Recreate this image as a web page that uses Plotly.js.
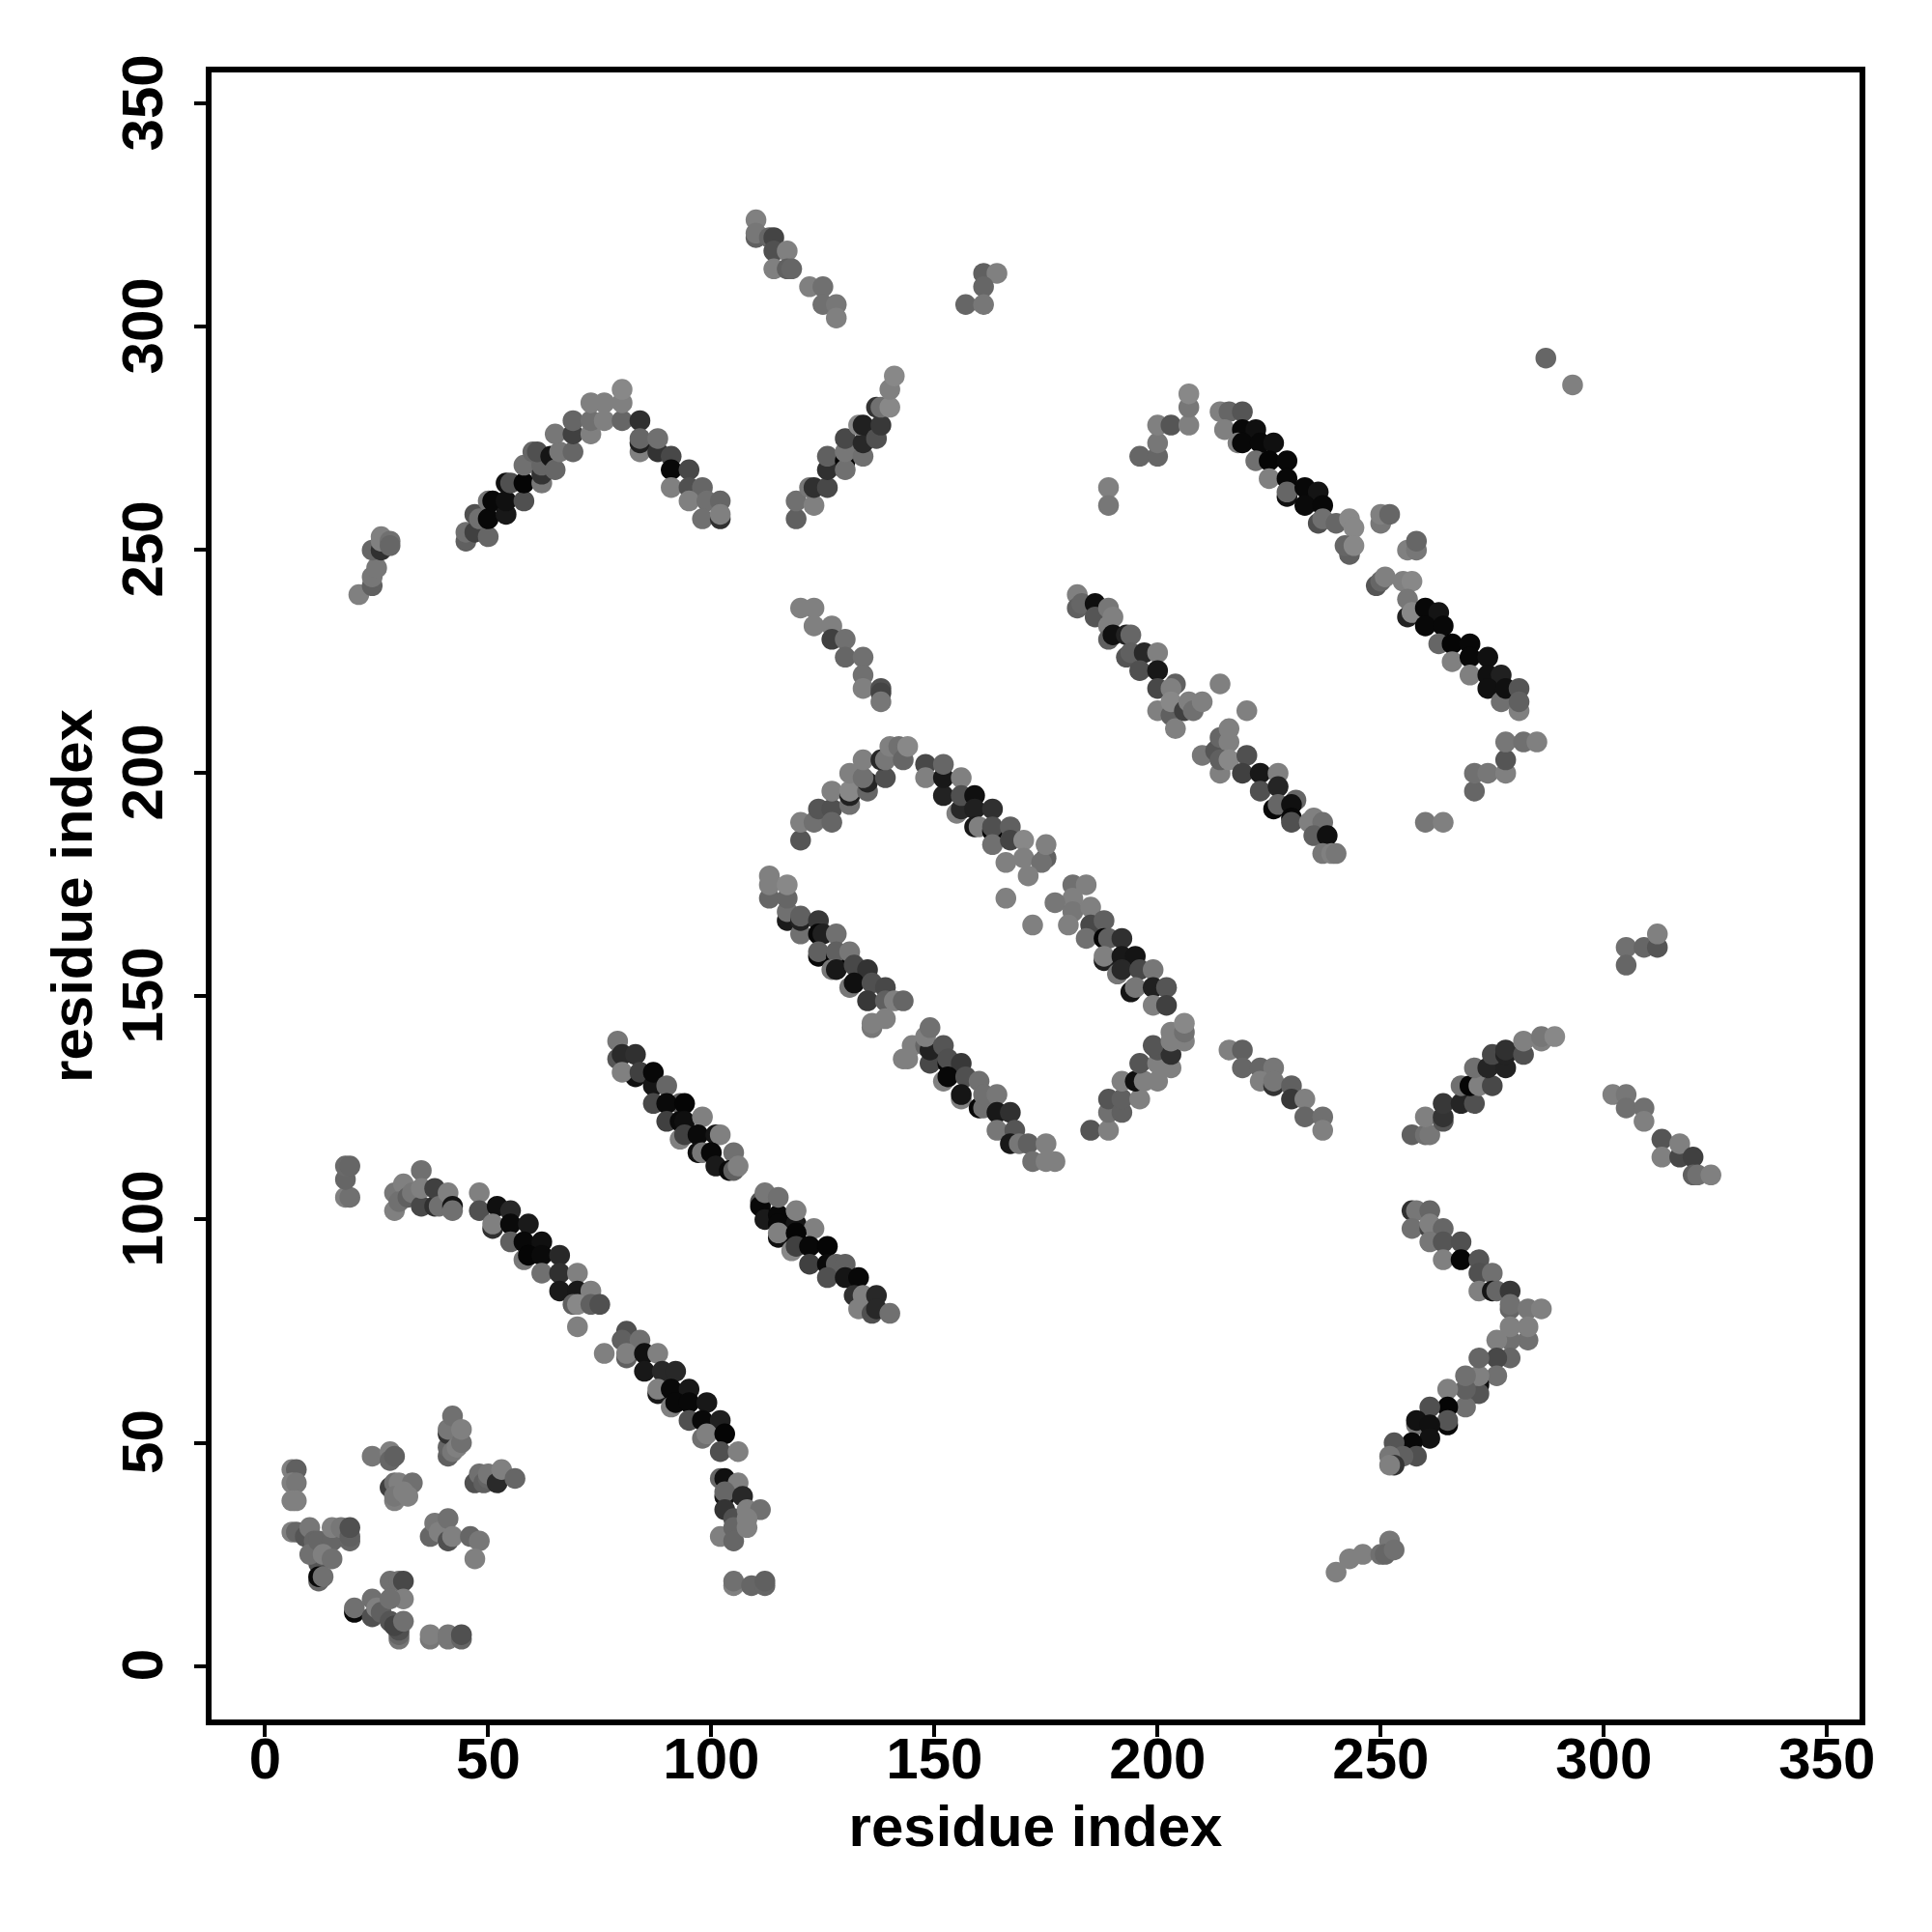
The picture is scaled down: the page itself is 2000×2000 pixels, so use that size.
<!DOCTYPE html>
<html>
<head>
<meta charset="utf-8">
<script src="https://cdn.plot.ly/plotly-3.0.1.min.js"></script>
<style>html,body{margin:0;padding:0;background:#fff}</style>
</head>
<body>
<div id="chart" style="width:2000px;height:2000px"></div>
<script>
// Each point: [residue i, residue j, grey level 0-255]
const helixA=[[79,140,0x77],[79,136,0x55],[80,137,0x2a],[83,137,0x30],[83,132,0x10],[80,133,0x80],[84,133,0x40],[87,130,0x15],[87,133,0x08],[90,130,0x66],[87,126,0x48],[93,126,0x66],[90,126,0x0a],[94,126,0x05],[90,122,0x40],[93,122,0x0a],[94,122,0x0f],[98,123,0x80],[93,118,0x80],[94,119,0x40],[97,119,0x0a],[101,119,0x15],[102,119,0x80],[97,115,0x10],[98,115,0x77],[100,115,0x08],[105,115,0x70],[101,112,0x1a],[104,111,0x0a],[105,111,0x60],[106,112,0x80]];
const helixB=[[111,104,0x55],[111,103,0x08],[112,106,0x77],[112,100,0x1a],[115,101,0x08],[115,105,0x70],[115,99,0x08],[119,99,0x15],[119,102,0x80],[115,96,0x10],[115,97,0x80],[123,98,0x80],[119,97,0x05],[118,93,0x88],[119,94,0x40],[122,94,0x08],[126,94,0x05],[122,90,0x40],[126,90,0x0a],[128,90,0x60],[130,90,0x60],[126,87,0x50],[130,87,0x15],[133,87,0x08],[132,83,0x30],[134,83,0x80],[137,83,0x28],[133,80,0x80],[136,79,0x50],[137,80,0x28],[140,79,0x70]];
const arcUpper=[[18,105,0x80],[19,105,0x70],[18,109,0x66],[18,112,0x6a],[19,112,0x66],[35,111,0x70],[29,102,0x80],[29,106,0x77],[31,108,0x80],[30,104,0x70],[32,105,0x60],[33,106,0x77],[35,103,0x48],[35,107,0x80],[38,103,0x30],[38,107,0x40],[39,103,0x70],[41,106,0x80],[42,103,0x15],[42,102,0x70],[48,106,0x80],[48,102,0x50],[52,103,0x10],[55,102,0x28],[51,98,0x30],[51,99,0x80],[55,99,0x0a],[59,99,0x1a],[55,95,0x60],[58,95,0x08],[62,95,0x10],[58,91,0x77],[59,92,0x05],[62,92,0x0a],[66,92,0x28],[62,88,0x70],[66,88,0x30],[70,88,0x80],[66,84,0x1a],[70,84,0x18],[73,84,0x80],[69,81,0x60],[70,81,0x88],[73,81,0x60],[75,81,0x50],[70,76,0x80]];
const arcLower=[[81,75,0x50],[80,73,0x60],[84,73,0x70],[76,70,0x80],[81,69,0x60],[81,70,0x80],[85,70,0x10],[88,70,0x80],[85,66,0x18],[89,66,0x28],[92,66,0x28],[88,61,0x18],[88,62,0x80],[91,62,0x08],[95,62,0x18],[91,58,0x80],[92,59,0x08],[95,59,0x08],[99,59,0x18],[95,55,0x50],[98,55,0x08],[102,55,0x20],[98,51,0x70],[99,52,0x80],[103,52,0x05],[102,48,0x50],[106,48,0x80]];
const tailLow=[[102,42,0x66],[103,42,0x10],[106,41,0x80],[103,38,0x15],[103,39,0x66],[107,38,0x28],[103,35,0x33],[105,33,0x50],[108,35,0x80],[111,35,0x70],[102,29,0x80],[105,31,0x66],[105,28,0x66],[108,33,0x80],[108,31,0x80],[105,18,0x80],[105,19,0x70],[109,18,0x66],[112,18,0x66],[112,19,0x60]];
const cornerA=[[6,44,0x80],[7,44,0x60],[6,41,0x80],[7,41,0x77],[6,37,0x80],[7,37,0x80],[6,30,0x80],[7,30,0x66],[9,29,0x55],[10,31,0x77],[11,28,0x66],[12,23,0x55],[10,25,0x70],[12,28,0x66],[15,28,0x66],[13,25,0x80],[15,24,0x70],[15,31,0x80],[17,31,0x77],[19,28,0x66],[19,29,0x60],[19,31,0x50],[12,19,0x66],[12,20,0x08],[13,20,0x70]];
const cornerB=[[20,12,0x08],[20,13,0x70],[24,15,0x70],[24,11,0x50],[25,13,0x80],[26,12,0x60],[28,19,0x70],[30,19,0x70],[31,19,0x48],[31,15,0x80],[28,15,0x70],[28,10,0x55],[30,6,0x77],[30,7,0x66],[30,8,0x50],[29,9,0x44],[31,10,0x70],[37,6,0x77],[37,7,0x80],[41,6,0x77],[41,7,0x77],[44,6,0x66],[44,7,0x50]];
const cornerC=[[24,47,0x77],[28,48,0x80],[28,46,0x66],[29,47,0x60],[28,40,0x40],[29,41,0x70],[30,41,0x80],[33,41,0x70],[29,37,0x80],[29,38,0x77],[31,39,0x80],[32,38,0x80],[41,47,0x60],[41,49,0x66],[41,52,0x33],[41,53,0x77],[42,48,0x77],[43,49,0x80],[44,50,0x70],[42,56,0x70],[44,53,0x80],[47,41,0x50],[48,43,0x70],[49,41,0x60],[50,42,0x66],[50,43,0x77],[52,41,0x2a],[53,44,0x80],[56,42,0x66],[37,29,0x66],[38,32,0x77],[39,30,0x80],[41,33,0x70],[41,28,0x50],[42,29,0x80],[46,29,0x66],[48,28,0x77],[47,24,0x80]];
const ridgeLeft=[[21,240,0x80],[24,242,0x60],[24,244,0x77],[25,246,0x77],[24,250,0x66],[26,250,0x30],[26,252,0x80],[26,253,0x80],[28,252,0x70],[28,251,0x66],[45,252,0x60],[45,254,0x70],[47,254,0x40],[47,258,0x50],[48,257,0x70],[50,253,0x66],[50,261,0x77],[50,257,0x08],[51,261,0x08],[54,258,0x18],[54,261,0x10],[58,261,0x50],[54,265,0x10],[55,265,0x50],[58,265,0x05],[62,265,0x77],[58,269,0x70],[62,267,0x33],[62,269,0x66],[60,272,0x66],[61,272,0x50],[64,271,0x15],[65,268,0x66],[66,272,0x77],[65,276,0x77],[69,272,0x66],[69,276,0x40],[69,279,0x66],[73,276,0x80],[73,279,0x70],[73,283,0x80],[76,283,0x80],[76,279,0x80],[80,279,0x66],[80,283,0x80],[80,286,0x88],[84,279,0x30],[84,272,0x80],[84,274,0x20],[84,275,0x66],[88,272,0x33],[88,275,0x70],[91,271,0x48],[91,268,0x08],[95,268,0x48],[91,264,0x80],[95,264,0x50],[98,264,0x66],[95,261,0x80],[99,261,0x70],[102,261,0x66],[98,257,0x70],[102,257,0x30],[102,258,0x80]];
const riseMid=[[119,257,0x60],[119,261,0x70],[123,260,0x80],[122,264,0x77],[123,264,0x30],[126,264,0x48],[126,268,0x30],[126,271,0x60],[130,270,0x05],[130,268,0x70],[130,272,0x77],[130,275,0x48],[134,271,0x70],[134,274,0x28],[133,278,0x88],[134,278,0x20],[137,275,0x50],[137,282,0x33],[138,278,0x38],[138,282,0x70],[140,282,0x88],[140,286,0x80],[141,289,0x88]];
const topPair=[[110,324,0x80],[110,320,0x60],[110,321,0x77],[113,320,0x66],[114,320,0x44],[114,317,0x50],[117,317,0x80],[114,313,0x80],[117,313,0x60],[118,313,0x66],[122,309,0x80],[125,309,0x70],[125,305,0x70],[128,305,0x77],[128,302,0x80],[161,312,0x60],[164,312,0x80],[161,309,0x66],[157,305,0x66],[161,305,0x77]];
const fallMid=[[120,237,0x80],[123,237,0x80],[123,233,0x80],[127,233,0x80],[127,230,0x40],[130,230,0x70],[130,226,0x66],[134,226,0x70],[134,222,0x70],[134,219,0x80],[138,219,0x50],[138,218,0x44],[138,216,0x77]];
const peakUp=[[120,185,0x55],[120,189,0x80],[123,189,0x70],[124,192,0x55],[127,192,0x50],[127,189,0x66],[127,196,0x80],[131,193,0x70],[131,195,0x20],[131,196,0x88],[131,200,0x80],[135,196,0x66],[135,198,0x25],[134,199,0x70],[134,203,0x80],[139,199,0x50],[138,203,0x28],[139,203,0x77],[140,206,0x80],[142,206,0x70],[143,203,0x66],[144,206,0x88]];
const peakDown=[[148,202,0x48],[148,199,0x80],[152,195,0x22],[152,199,0x18],[152,202,0x66],[156,199,0x80],[155,191,0x80],[156,192,0x28],[156,195,0x50],[159,195,0x10],[159,192,0x20],[163,192,0x30],[159,188,0x18],[160,188,0x80],[163,187,0x05],[163,188,0x50],[163,184,0x70],[167,188,0x60],[167,185,0x44],[170,185,0x88],[166,180,0x80],[170,181,0x80],[175,181,0x60],[174,180,0x70],[175,184,0x80],[171,177,0x80],[166,172,0x80],[172,166,0x80]];
const bandLeftA=[[113,172,0x66],[113,175,0x80],[113,177,0x80],[117,167,0x1a],[117,169,0x70],[117,172,0x66],[117,175,0x88],[120,164,0x70],[120,167,0x22],[120,168,0x60],[124,167,0x38],[124,164,0x08],[125,164,0x20],[128,164,0x70],[124,159,0x08],[124,160,0x60],[128,159,0x05],[128,160,0x60],[131,160,0x77],[127,156,0x77],[128,156,0x18],[132,157,0x48],[135,156,0x33],[131,152,0x77],[132,153,0x10],[136,153,0x50],[139,152,0x48],[135,149,0x38],[139,149,0x60],[141,149,0x80],[143,149,0x66],[136,143,0x77],[136,144,0x80],[139,145,0x80]];
const bandLeftB=[[145,139,0x80],[143,136,0x80],[144,136,0x80],[149,135,0x48],[148,139,0x66],[149,138,0x22],[148,141,0x80],[149,143,0x70],[152,139,0x55],[153,135,0x08],[153,136,0x50],[156,135,0x38],[152,131,0x80],[153,132,0x08],[157,132,0x50],[156,127,0x80],[156,128,0x15],[160,131,0x70],[160,125,0x08],[161,125,0x70],[161,128,0x70],[164,128,0x77],[164,124,0x18],[167,124,0x30],[164,120,0x77],[168,120,0x55],[167,117,0x18],[169,117,0x77],[171,117,0x60],[175,117,0x80],[172,113,0x70],[175,113,0x80],[177,113,0x80]];
const crossRise=[[185,120,0x55],[189,120,0x80],[189,124,0x70],[189,127,0x55],[192,124,0x60],[192,127,0x60],[196,127,0x80],[192,131,0x80],[195,131,0x10],[197,131,0x80],[196,135,0x55],[200,131,0x80],[200,135,0x80],[200,138,0x55],[203,134,0x80],[203,137,0x30],[199,139,0x55],[203,140,0x80],[203,142,0x80],[206,140,0x80],[206,142,0x70],[206,144,0x88]];
const bandRightA=[[181,175,0x70],[184,175,0x80],[181,172,0x80],[177,171,0x77],[181,169,0x77],[185,170,0x80],[180,166,0x80],[185,166,0x48],[188,167,0x60],[184,163,0x70],[188,163,0x05],[189,163,0x60],[192,163,0x30],[188,158,0x20],[188,159,0x80],[192,159,0x18],[195,159,0x14],[191,155,0x77],[192,156,0x28],[196,156,0x48],[199,156,0x77],[194,151,0x15],[195,152,0x77],[199,152,0x20],[202,152,0x55],[199,148,0x80],[202,148,0x40]];
const bandRightB=[[182,240,0x80],[182,237,0x60],[183,238,0x66],[186,238,0x0f],[186,235,0x55],[189,237,0x77],[189,233,0x80],[190,235,0x80],[189,230,0x60],[190,231,0x10],[193,231,0x22],[194,231,0x66],[193,226,0x55],[194,227,0x60],[197,227,0x28],[200,227,0x80],[196,223,0x50],[200,223,0x18],[200,219,0x48],[204,220,0x60],[203,219,0x80],[200,214,0x80],[203,213,0x60],[203,216,0x88],[204,210,0x80],[206,214,0x40],[207,216,0x80],[208,214,0x70],[210,216,0x80],[214,220,0x80],[220,214,0x80],[210,204,0x77],[213,205,0x55],[214,208,0x66],[216,210,0x80],[216,207,0x80],[214,200,0x80],[214,203,0x60],[216,203,0x88],[220,204,0x50],[219,200,0x40],[223,200,0x18],[227,200,0x80],[223,196,0x50],[227,197,0x25],[226,192,0x08],[227,193,0x66],[231,194,0x66],[230,193,0x10],[230,190,0x08],[230,189,0x50],[234,189,0x80],[235,190,0x80],[237,189,0x70],[235,186,0x60],[238,186,0x10],[237,182,0x77],[239,182,0x80],[240,182,0x77]];
const rightBits=[[260,189,0x77],[264,189,0x80],[271,196,0x66],[271,200,0x70],[274,200,0x77],[278,200,0x80],[278,203,0x55],[278,207,0x77],[282,207,0x70],[285,207,0x80],[287,293,0x66],[293,287,0x80]];
const ridgeRight=[[189,264,0x80],[189,260,0x77],[196,271,0x66],[200,271,0x66],[200,274,0x77],[200,278,0x80],[203,278,0x55],[207,278,0x80],[207,282,0x77],[207,285,0x88],[214,281,0x80],[216,281,0x66],[219,281,0x55],[215,277,0x80],[219,277,0x08],[222,277,0x10],[218,274,0x80],[219,274,0x08],[223,274,0x08],[226,274,0x10],[222,270,0x70],[225,270,0x05],[229,270,0x08],[225,266,0x80],[229,266,0x08],[229,262,0x10],[229,263,0x66],[233,264,0x08],[236,263,0x14],[233,260,0x0a],[237,260,0x08],[236,256,0x50],[237,257,0x70],[240,256,0x66],[243,257,0x88],[244,255,0x88],[243,249,0x60],[242,251,0x66],[244,251,0x88],[250,256,0x77],[250,258,0x80],[252,258,0x66],[256,250,0x80],[258,250,0x77],[258,252,0x66],[249,242,0x55],[250,243,0x66],[251,244,0x80],[255,243,0x80],[257,243,0x88],[256,239,0x77],[256,235,0x22],[257,236,0x88],[260,237,0x08],[263,236,0x14],[260,233,0x08],[264,233,0x08],[263,229,0x66],[266,229,0x05],[266,225,0x80],[270,229,0x08],[270,226,0x08],[274,226,0x10],[270,222,0x80],[274,222,0x10],[277,222,0x20],[274,219,0x10],[277,216,0x70],[278,219,0x10],[281,219,0x55],[281,214,0x80],[281,216,0x60]];
const lowerRight=[[216,138,0x80],[219,138,0x60],[219,134,0x66],[223,134,0x66],[226,134,0x77],[223,131,0x80],[226,130,0x33],[226,131,0x77],[230,130,0x60],[230,127,0x38],[233,127,0x80],[233,123,0x66],[237,123,0x70],[237,120,0x80],[257,119,0x60],[260,119,0x70],[261,119,0x77],[260,123,0x80],[264,122,0x55],[264,123,0x33],[264,126,0x38],[268,126,0x25],[271,126,0x50],[268,130,0x70],[270,130,0x05],[272,130,0x80],[271,134,0x70],[275,130,0x48],[274,134,0x25],[278,134,0x22],[275,137,0x48],[278,137,0x22],[278,138,0x30],[282,137,0x50],[282,140,0x80],[286,140,0x80],[286,141,0x77],[289,141,0x88]];
const farRight=[[302,128,0x80],[305,128,0x77],[305,125,0x70],[309,125,0x70],[309,122,0x80],[313,118,0x55],[313,114,0x80],[317,114,0x48],[317,117,0x80],[320,114,0x40],[320,110,0x60],[321,110,0x70],[324,110,0x80],[305,161,0x70],[305,157,0x66],[309,161,0x66],[312,161,0x55],[312,164,0x80]];
const chevron=[[257,102,0x30],[258,102,0x77],[261,102,0x66],[257,98,0x70],[261,98,0x44],[261,99,0x80],[264,98,0x66],[261,95,0x77],[264,95,0x55],[264,91,0x80],[268,95,0x50],[268,91,0x05],[272,91,0x55],[272,88,0x50],[275,88,0x70],[272,84,0x80],[275,84,0x15],[276,84,0x66],[279,84,0x38],[279,80,0x66],[279,81,0x70],[283,80,0x77],[286,80,0x80],[283,73,0x70],[283,76,0x80],[279,73,0x70],[279,76,0x80],[276,73,0x80],[279,69,0x66],[276,69,0x48],[276,65,0x70],[272,63,0x10],[272,61,0x55],[272,65,0x80],[272,69,0x66],[269,58,0x70],[269,62,0x60],[269,65,0x70],[265,62,0x80],[265,58,0x05],[261,58,0x50],[265,54,0x08],[265,55,0x55],[258,54,0x77],[258,55,0x12],[261,54,0x10],[261,51,0x12],[257,50,0x08],[258,47,0x50],[253,50,0x55],[255,47,0x60],[252,47,0x77],[253,45,0x33],[252,45,0x80]];
const lowTail=[[240,21,0x80],[243,24,0x80],[246,25,0x80],[250,25,0x70],[252,28,0x77],[251,25,0x66],[253,26,0x70]];

const clusters=[helixA,helixB,arcUpper,arcLower,tailLow,cornerA,cornerB,cornerC,ridgeLeft,riseMid,topPair,fallMid,peakUp,peakDown,bandLeftA,bandLeftB,crossRise,bandRightA,bandRightB,rightBits,ridgeRight,lowerRight,farRight,chevron,lowTail];
const tickValues=[0,50,100,150,200,250,300,350];
const axisLabel='residue index';

const points=clusters.flat();
const font={family:'"Liberation Sans", Arial, sans-serif',size:60,color:'#000',weight:700};
const axisBase={
  showgrid:false,zeroline:false,showline:true,mirror:true,linecolor:'#000',linewidth:6,
  ticks:'outside',ticklen:12,tickwidth:4,tickcolor:'#000',tickmode:'array',
  tickvals:tickValues,ticktext:tickValues.map(String),tickfont:font
};
Plotly.newPlot('chart',[{
  type:'scatter',mode:'markers',
  x:points.map(p=>p[0]),y:points.map(p=>p[1]),
  marker:{size:21.5,line:{width:0},color:points.map(p=>`rgb(${p[2]},${p[2]},${p[2]})`)},
  hoverinfo:'x+y'
}],{
  width:2000,height:2000,autosize:false,showlegend:false,
  paper_bgcolor:'#fff',plot_bgcolor:'#fff',
  margin:{l:219,r:75,t:75,b:220,pad:0},
  xaxis:Object.assign({},axisBase,{range:[-12,357.3],tickangle:0,ticklabelstandoff:-29,title:{text:axisLabel,font:font,standoff:18}}),
  yaxis:Object.assign({},axisBase,{range:[-12,357],tickangle:-90,ticklabelstandoff:9,ticklabelshift:8,title:{text:axisLabel,font:font,standoff:1}})
},{displayModeBar:false,staticPlot:true});
</script>
</body>
</html>
